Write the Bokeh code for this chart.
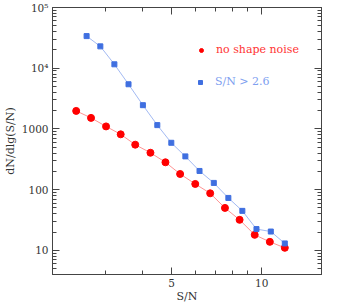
from bokeh.plotting import figure
from bokeh.models import FixedTicker, LogAxis, Legend, LegendItem, Range1d
from bokeh.embed import file_html
from bokeh.resources import INLINE

# --- data ---
red_sn = [2.40, 2.69, 3.02, 3.38, 3.78, 4.25, 4.77, 5.34, 6.00, 6.73, 7.54, 8.44, 9.48, 10.65, 11.95]
red_counts = [1980, 1520, 1100, 815, 550, 405, 282, 181, 124, 87, 50, 31.8, 18.0, 13.8, 11.0]
blue_sn = [2.60, 2.89, 3.22, 3.59, 4.01, 4.48, 4.99, 5.56, 6.20, 6.92, 7.74, 8.62, 9.61, 10.73, 11.95]
blue_counts = [33800, 22900, 11600, 5440, 2460, 1155, 591, 353, 203, 129, 73, 44.7, 22.4, 20.4, 13.0]

x_major = [5, 10]
x_minor = [3, 4, 6, 7, 8, 9]
y_major = [10, 100, 1000, 10000, 100000]
y_labels = {10: "10", 100: "100", 1000: "1000", 10000: "10\u2074", 100000: "10\u2075"}
y_minor = [k * 10 ** d for d in range(0, 5) for k in range(2, 10)]

FONT = "DejaVu Serif"
AX = "#444444"

p = figure(frame_width=269, frame_height=267, x_axis_type="log", y_axis_type="log",
           x_range=Range1d(2, 15.85), y_range=Range1d(4, 1e5),
           output_backend="svg", toolbar_location=None,
           min_border_left=46, min_border_right=12, min_border_top=7, min_border_bottom=30)
p.grid.visible = False
p.outline_line_color = AX
p.background_fill_color = "white"
p.border_fill_color = "white"

xt = FixedTicker(ticks=x_major, minor_ticks=x_minor)
yt = FixedTicker(ticks=y_major, minor_ticks=y_minor)

def style(ax, labels=True):
    ax.axis_line_color = AX
    ax.major_tick_line_color = AX
    ax.minor_tick_line_color = AX
    ax.major_tick_in = 7
    ax.major_tick_out = 0
    ax.minor_tick_in = 4
    ax.minor_tick_out = 0
    ax.major_label_text_font = FONT
    ax.major_label_text_color = "#333333"
    ax.axis_label_text_font = FONT
    ax.axis_label_text_font_size = "11px"
    ax.axis_label_text_font_style = "normal"
    ax.axis_label_text_color = "#333333"
    if labels:
        ax.major_label_text_font_size = "10.5px"
    else:
        ax.major_label_text_font_size = "1px"
        ax.major_label_text_color = None
        ax.major_label_standoff = 0

p.xaxis.ticker = xt
p.yaxis.ticker = yt
p.yaxis.major_label_overrides = y_labels
style(p.xaxis[0])
style(p.yaxis[0])
p.xaxis.axis_label = "S/N"
p.yaxis.axis_label = "dN/dlg(S/N)"
p.xaxis.major_label_standoff = 4
p.xaxis.axis_label_standoff = 0
p.yaxis.major_label_standoff = 4
p.yaxis.axis_label_standoff = 2

top = LogAxis(ticker=xt)
style(top, labels=False)
right = LogAxis(ticker=yt)
style(right, labels=False)
p.add_layout(top, "above")
p.add_layout(right, "right")

p.line(red_sn, red_counts, line_color="#ff9494", line_width=1)
r_red = p.scatter(red_sn, red_counts, marker="circle", size=7, fill_color="#ff0000", line_color="#ff0000")
p.line(blue_sn, blue_counts, line_color="#a3baf3", line_width=1)
r_blue = p.scatter(blue_sn, blue_counts, marker="square", size=5, fill_color="#3f6fe0", line_color="#3f6fe0")

def mk_legend(label, rend, loc, color):
    lg = Legend(items=[LegendItem(label=label, renderers=[rend])], location=loc,
                padding=0, margin=0, spacing=0, glyph_width=10, glyph_height=10,
                label_height=10, label_standoff=10, border_line_alpha=0,
                background_fill_alpha=0, label_text_font=FONT,
                label_text_font_size="11px", label_text_color=color)
    return lg

p.add_layout(mk_legend("no shape noise", r_red, (144, 218), "#ff3333"))
p.add_layout(mk_legend("S/N > 2.6", r_blue, (143, 186), "#7f9ff0"))

open("out.html", "w").write(file_html(p, INLINE))
